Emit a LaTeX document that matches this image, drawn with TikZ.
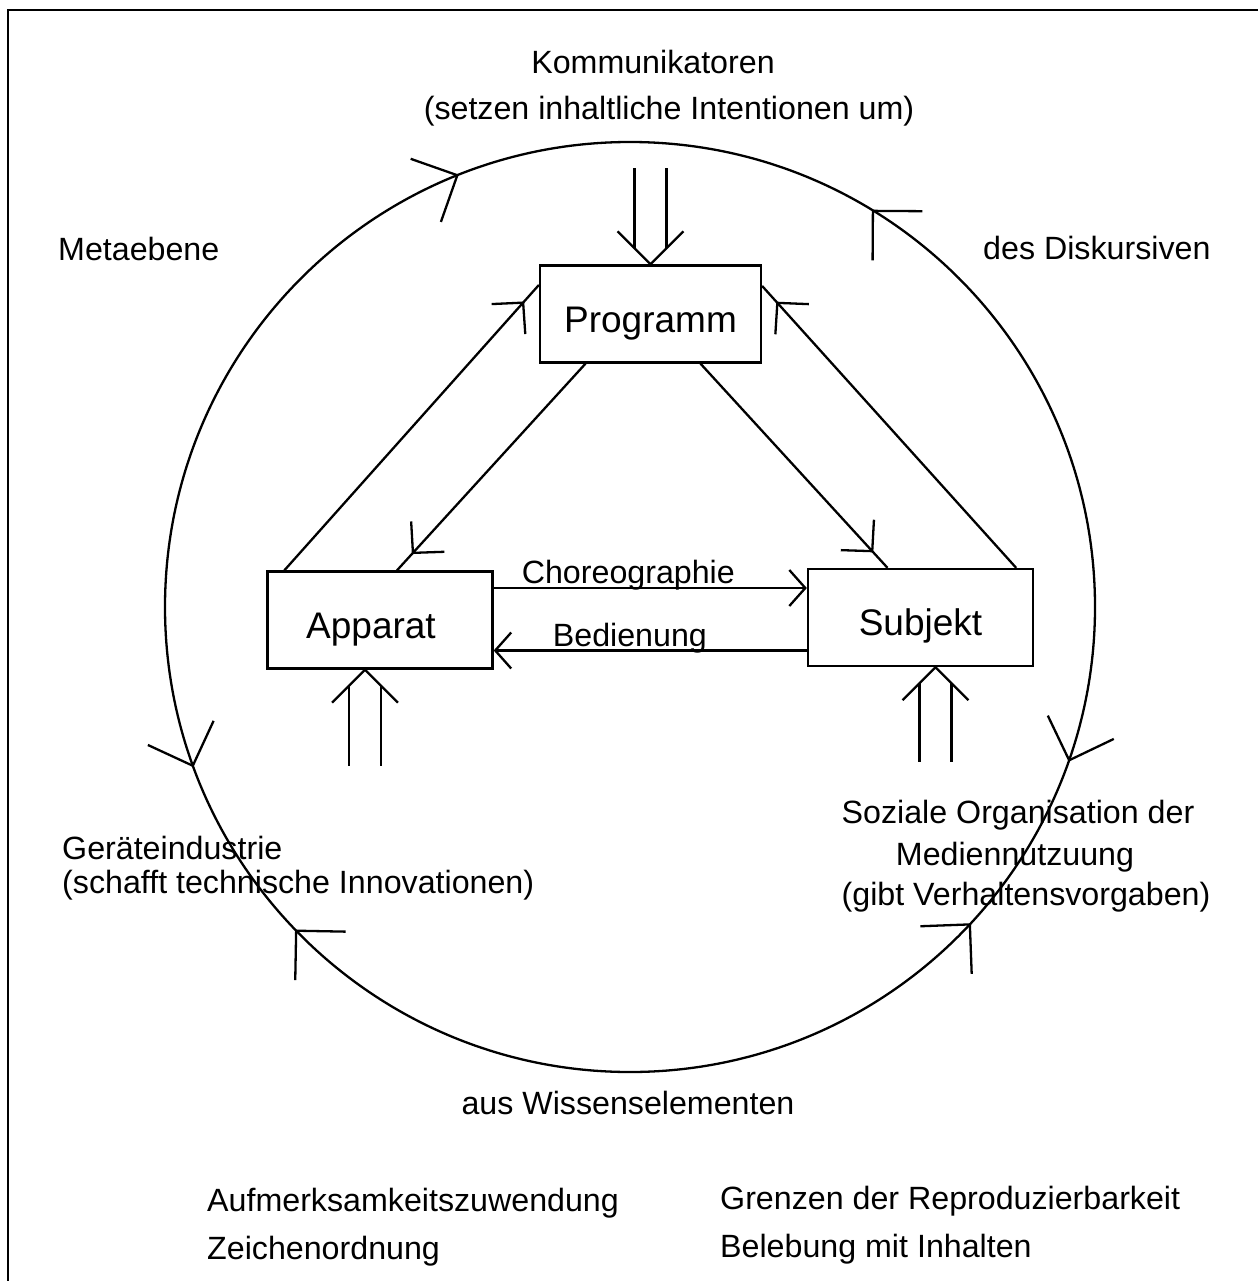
\documentclass[tikz,border=0pt]{standalone}
\usepackage{fontspec}
\setmainfont{Liberation Sans}
\usetikzlibrary{arrows.meta,decorations.markings}
\tikzset{
  wire/.style={line width=2.3pt},
  box/.style={draw, line width=2.3pt, minimum width=225pt, minimum height=97pt, inner sep=0pt,
    text height=37pt, text depth=0pt, font=\fontsize{37}{44}\selectfont},
  lbl/.style={inner sep=0pt, font=\fontsize{32.2}{40}\selectfont},
  smallbarb/.tip={Straight Barb[length=16pt,width=36pt]},
  sidebarb/.tip={Straight Barb[length=22pt,width=45pt]},
  ringbarb/.tip={Straight Barb[length=35pt,width=70pt]},
  sidetip/.style={postaction={decorate, decoration={markings,
    mark=at position -#1 with {\arrow{sidebarb}}}}},
}

\begin{document}
\begin{tikzpicture}[x=1pt, y=-1pt]
\useasboundingbox (0,0) rectangle (1258,1281);

% frame
\draw[line width=2pt] (8,1281) -- (8,10) -- (1258,10);

% ring: metaebene des Diskursiven
\coordinate (c) at (630,607);
\draw[wire, postaction={decorate, decoration={markings,
    mark=at position 0.054 with {\arrow{ringbarb}},
    mark=at position 0.119 with {\arrowreversed{ringbarb}},
    mark=at position 0.378 with {\arrow{ringbarb}},
    mark=at position 0.444 with {\arrowreversed{ringbarb}},
    mark=at position 0.690 with {\pgftransformrotate{4}\arrow{ringbarb}},
    mark=at position 0.837 with {\pgftransformrotate{-14}\arrowreversed{ringbarb}}}}]
  (c) circle[radius=465];

% the three boxes
\node[box, minimum width=221pt] (prog) at (650.5,314) {Programm};
\node[box] (app) at (380,620) {\hspace*{-18pt}Apparat};
\node[box, text height=35pt] (subj) at (920.5,617.5) {Subjekt};

% triangle
\draw[wire, sidetip=22pt] ([xshift=18pt]app.north west) -- ([yshift=29pt]prog.west);
\draw[wire, sidetip=21pt] ([xshift=-18pt]subj.north east) -- ([yshift=28pt]prog.east);
\draw[wire, sidetip=22pt] ([xshift=-65pt]prog.south) -- ([xshift=17pt]app.north);
\draw[wire, sidetip=21pt] ([xshift=50pt]prog.south) -- ([xshift=-33pt]subj.north);

\draw[wire, -{smallbarb}] ([yshift=32pt]app.east) --
  node[lbl, pos=0.43, anchor=base, yshift=5pt] (choreo) {Choreographie}
  ([yshift=32pt]app.east -| subj.west);
\draw[wire, -{smallbarb}] ([yshift=-33pt]subj.west) --
  node[lbl, pos=0.565, anchor=base, yshift=4pt] (bedien) {Bedienung}
  ([yshift=-33pt]subj.west -| app.east);

% inputs from outside
\coordinate (kin) at (prog.north);
\coordinate (ain) at ([xshift=-15pt]app.south);
\coordinate (sin) at ([xshift=15pt]subj.south);
\draw[wire] ([shift={(-33pt,33pt)}]kin) -- (kin) -- ([shift={(33pt,33pt)}]kin);
\draw[wire] ([shift={(-16pt,16pt)}]kin) -- ++(0,-80);
\draw[wire] ([shift={(16pt,16pt)}]kin) -- ++(0,-80);
\draw[wire] ([shift={(-33pt,-33pt)}]ain) -- (ain) -- ([shift={(33pt,-33pt)}]ain);
\draw[wire] ([shift={(-16pt,-16pt)}]ain) -- ++(0,80);
\draw[wire] ([shift={(16pt,-16pt)}]ain) -- ++(0,80);
\draw[wire] ([shift={(-33pt,-33pt)}]sin) -- (sin) -- ([shift={(33pt,-33pt)}]sin);
\draw[wire] ([shift={(-16pt,-16pt)}]sin) -- ++(0,79);
\draw[wire] ([shift={(16pt,-16pt)}]sin) -- ++(0,79);

% texts
\node[lbl, anchor=base] (komm1) at (653,74) {Kommunikatoren};
\node[lbl, anchor=base] (komm2) at (669,120) {(setzen inhaltliche Intentionen um)};
\node[lbl, anchor=base west] (meta) at (58,261) {Metaebene};
\node[lbl, anchor=base west] (disk) at (983,259) {des Diskursiven};
\node[lbl, anchor=base west] (geraet1) at (62,859) {Geräteindustrie};
\node[lbl, anchor=base west] (geraet2) at (62,893) {(schafft technische Innovationen)};
\node[lbl, anchor=base] (sozial1) at (1018,823) {Soziale Organisation der};
\node[lbl, anchor=base] (sozial2) at (1015,865) {Mediennutzuung};
\node[lbl, anchor=base] (sozial3) at (1026,905) {(gibt Verhaltensvorgaben)};
\node[lbl, anchor=base] (wissen) at (628,1114) {aus Wissenselementen};
\node[lbl, anchor=base west] (aufm) at (207,1211) {Aufmerksamkeitszuwendung};
\node[lbl, anchor=base west] (zeichen) at (207,1259) {Zeichenordnung};
\node[lbl, anchor=base west] (grenz) at (720,1209) {Grenzen der Reproduzierbarkeit};
\node[lbl, anchor=base west] (beleb) at (720,1257) {Belebung mit Inhalten};

\end{tikzpicture}
\end{document}
